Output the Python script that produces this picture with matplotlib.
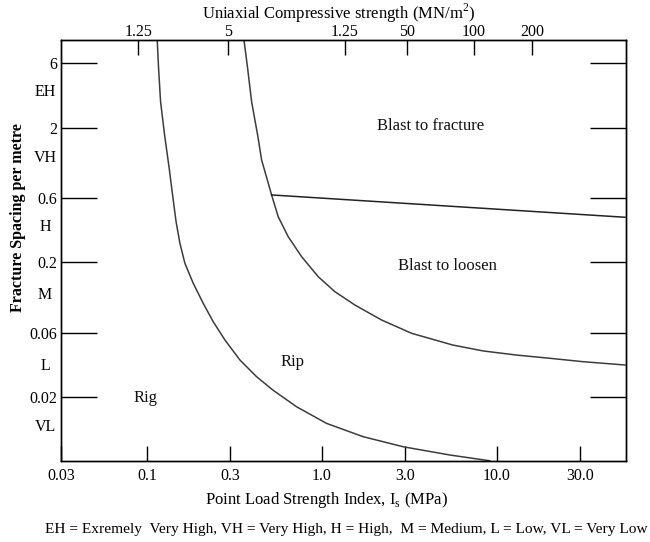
import matplotlib
matplotlib.use('Agg')
import matplotlib.pyplot as plt
from matplotlib.ticker import NullLocator, FixedLocator, FixedFormatter
import matplotlib.transforms as mtransforms

plt.rcParams['font.family'] = ['Liberation Serif', 'DejaVu Serif']
plt.rcParams['mathtext.fontset'] = 'custom'
plt.rcParams['mathtext.rm'] = 'Liberation Serif'

# ---- data ----
rip_x = [0.1145, 0.1166, 0.1197, 0.1262, 0.1341, 0.1414, 0.1469, 0.1544, 0.1649,
         0.1840, 0.2098, 0.2393, 0.2793, 0.3402, 0.4238, 0.5253, 0.7177,
         1.065, 1.724, 2.920, 5.40, 9.14]
rip_y = [9.0, 5.510, 3.113, 1.763, 0.998, 0.5808, 0.399, 0.2773, 0.1970,
         0.1400, 0.0995, 0.0727, 0.0532, 0.0378, 0.0284, 0.0226, 0.0170,
         0.0128, 0.0102, 0.00859, 0.00746, 0.00676]

loosen_x = [0.3585, 0.3765, 0.3968, 0.4295, 0.4527, 0.5164, 0.5631, 0.6424, 0.7665,
            0.9537, 1.188, 1.546, 2.197, 3.262, 5.6, 8.37, 13.0, 20.15, 31.2, 54.1]
loosen_y = [9.0, 5.510, 3.113, 1.763, 1.150, 0.6326, 0.4366, 0.3103, 0.2206,
            0.1567, 0.1213, 0.0966, 0.0748, 0.0596, 0.0488, 0.0441, 0.0411, 0.0389,
            0.0367, 0.0347]

fracture_x = [0.5164, 54.1]
fracture_y = [0.6326, 0.4323]

x_ticks = [0.0324, 0.1, 0.3, 1.0, 3.0, 10.0, 30.0]
x_labels = ['0.03', '0.1', '0.3', '1.0', '3.0', '10.0', '30.0']

y_ticks = [6, 2, 0.6, 0.2, 0.06, 0.02]
y_labels = ['6', '2', '0.6', '0.2', '0.06', '0.02']

class_pos = [3.694, 1.184, 0.3644, 0.1147, 0.0341, 0.0121]
class_labels = ['EH', 'VH', 'H', 'M', 'L', 'VL']

top_ticks = [0.0892, 0.2893, 1.356, 3.077, 7.42, 15.96]
top_labels = ['1.25', '5', '1.25', '50', '100', '200']

region_names = ['Blast to fracture', 'Blast to loosen', 'Rip', 'Rig']
region_x = [4.206, 5.224, 0.679, 0.0987]
region_y = [2.067, 0.188, 0.0367, 0.01974]

# ---- figure ----
W, H = 650, 542
fig = plt.figure(figsize=(W / 100, H / 100), dpi=100)
L, R, T, B = 61.3, 625.5, 40.3, 460.7
ax = fig.add_axes([L / W, 1 - B / H, (R - L) / W, (B - T) / H])
ax.set_xscale('log')
ax.set_yscale('log')
ax.set_xlim(0.0324, 54.5)
ax.set_ylim(0.00677, 8.87)

line_col = '#3c3c3c'
ax.plot(rip_x, rip_y, color=line_col, lw=1.1, solid_joinstyle='round')
ax.plot(loosen_x, loosen_y, color=line_col, lw=1.1, solid_joinstyle='round')
ax.plot(fracture_x, fracture_y, color='#222222', lw=1.1)

for name, xx, yy in zip(region_names, region_x, region_y):
    ax.text(xx, yy, name, ha='center', va='center', fontsize=12, color='#111111')

for sp in ax.spines.values():
    sp.set_linewidth(1.0)
    sp.set_color('black')

ax.xaxis.set_major_locator(FixedLocator(x_ticks))
ax.xaxis.set_major_formatter(FixedFormatter(x_labels))
ax.xaxis.set_minor_locator(NullLocator())
ax.yaxis.set_major_locator(FixedLocator(y_ticks))
ax.yaxis.set_major_formatter(FixedFormatter(y_labels))
ax.yaxis.set_minor_locator(NullLocator())

ax.tick_params(axis='y', which='major', direction='in', length=26, width=1.0,
               left=True, right=True, pad=3, labelsize=11.5)
ax.tick_params(axis='x', which='major', direction='in', length=10.5, width=1.0,
               bottom=True, top=False, pad=5, labelsize=11.5)

trans = mtransforms.blended_transform_factory(ax.transAxes, ax.transData)
for lab, yy in zip(class_labels, class_pos):
    ax.text(-0.0289, yy, lab, transform=trans, ha='center', va='center', fontsize=11.5)

ax2 = ax.twiny()
ax2.set_xscale('log')
ax2.set_xlim(ax.get_xlim())
ax2.xaxis.set_major_locator(FixedLocator(top_ticks))
ax2.xaxis.set_major_formatter(FixedFormatter(top_labels))
ax2.xaxis.set_minor_locator(NullLocator())
ax2.tick_params(axis='x', which='major', direction='in', length=11, width=1.0,
                pad=0.5, labelsize=11.5)
for sp in ax2.spines.values():
    sp.set_linewidth(1.0)

fig.text(339 / W, 1 - 13 / H, 'Uniaxial Compressive strength (MN/m$^\\mathregular{2}$)',
         ha='center', va='center', fontsize=12)
fig.text(326 / W, 1 - 500 / H, 'Point Load Strength Index, I$_\\mathregular{s}$ (MPa)',
         ha='center', va='center', fontsize=12)
fig.text(18.3 / W, 1 - 217.5 / H, 'Fracture Spacing per metre', rotation=90,
         ha='center', va='center', fontsize=11.5, fontweight='bold')
fig.text(45 / W, 1 - 530 / H,
         'EH = Exremely  Very High, VH = Very High, H = High,  M = Medium, L = Low, VL = Very Low',
         ha='left', va='center', fontsize=11.1)

fig.savefig('out.png', dpi=100)
